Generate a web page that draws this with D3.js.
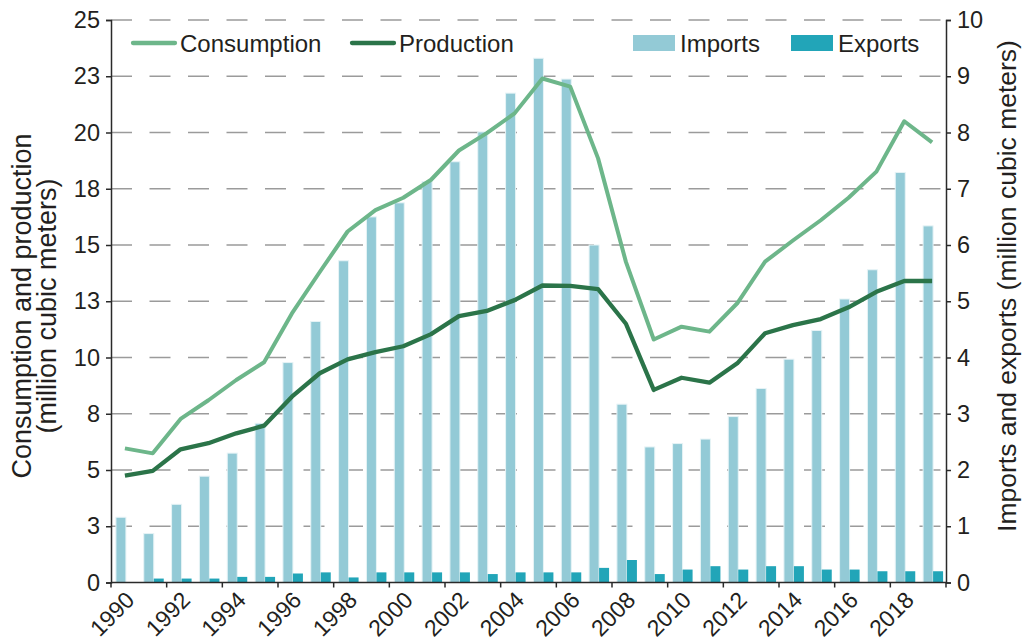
<!DOCTYPE html>
<html>
<head>
<meta charset="utf-8">
<script src="https://cdn.jsdelivr.net/npm/d3@7"></script>
<style>
  html, body { margin: 0; padding: 0; background: #fff; }
  svg { display: block; font-family: "Liberation Sans", Arial, Helvetica, sans-serif; }
</style>
</head>
<body>
<svg id="chart" width="1024" height="641"></svg>
<script>
const years = ["1990","1991","1992","1993","1994","1995","1996","1997","1998","1999",
  "2000","2001","2002","2003","2004","2005","2006","2007","2008","2009",
  "2010","2011","2012","2013","2014","2015","2016","2017","2018","2019"];
const consumption = [5.96,5.74,7.27,8.1,9.0,9.79,11.96,13.8,15.6,16.55,17.1,17.9,19.2,19.97,20.85,22.4,22.04,18.85,14.25,10.8,11.37,11.15,12.41,14.26,15.2,16.1,17.1,18.26,20.5,19.56];
const production = [4.75,4.96,5.92,6.19,6.63,6.97,8.26,9.3,9.92,10.24,10.5,11.04,11.84,12.07,12.55,13.2,13.18,13.04,11.5,8.56,9.1,8.88,9.74,11.08,11.44,11.71,12.23,12.92,13.4,13.4];
const imports = [1.16,0.87,1.39,1.89,2.30,2.83,3.91,4.64,5.72,6.5,6.75,7.13,7.48,8.01,8.70,9.32,8.95,6.0,3.17,2.41,2.47,2.55,2.95,3.45,3.97,4.48,5.04,5.56,7.29,6.34];
const exports_ = [0,0.07,0.07,0.07,0.1,0.1,0.16,0.18,0.09,0.18,0.18,0.18,0.18,0.15,0.18,0.18,0.18,0.26,0.4,0.15,0.23,0.29,0.23,0.29,0.29,0.23,0.23,0.2,0.2,0.2];
const leftTickValues = [0,2.5,5,7.5,10,12.5,15,17.5,20,22.5,25];
const leftTickLabels = ["0","3","5","8","10","13","15","18","20","23","25"];
const rightTickValues = [0,1,2,3,4,5,6,7,8,9,10];
const xLabelYears = ["1990","1992","1994","1996","1998","2000","2002","2004","2006","2008","2010","2012","2014","2016","2018"];
const leftTitle = ["Consumption and production", "(million cubic meters)"];
const rightTitle = "Imports and exports (million cubic meters)";
const legendItems = [
  {name: "Consumption", type: "line", color: "#6db68a"},
  {name: "Production", type: "line", color: "#2b7449"},
  {name: "Imports", type: "bar", color: "#93cad6"},
  {name: "Exports", type: "bar", color: "#22a5b8"}
];

const colors = {cons: "#6db68a", prod: "#2b7449", imp: "#93cad6", exp: "#22a5b8", axis: "#2a2a2a", grid: "#9b9b9b", text: "#231f20"};
const L = 111, R = 946, T = 20, B = 582.5;

const svg = d3.select("#chart");
const x = d3.scaleBand().domain(years).range([L, R]).paddingInner(0).paddingOuter(0);
const sub = d3.scaleBand().domain(["imp","exp"]).range([-9, 11]);
const yL = d3.scaleLinear().domain([0, 25]).range([B, T]);
const yR = d3.scaleLinear().domain([0, 10]).range([B, T]);
const cx = d => x(d) + x.bandwidth() / 2;

// gridlines
svg.append("g").selectAll("line").data(leftTickValues.filter(v => v > 0)).join("line")
  .attr("x1", L).attr("x2", R)
  .attr("y1", d => yL(d)).attr("y2", d => yL(d))
  .attr("stroke", colors.grid).attr("stroke-width", 1.5)
  .attr("stroke-dasharray", "21,17.5");

// bars
const bars = svg.append("g");
bars.selectAll("rect.imp").data(years).join("rect").attr("class","imp")
  .attr("x", (d) => cx(d) + sub("imp"))
  .attr("width", sub.bandwidth())
  .attr("y", (d,i) => yR(imports[i]))
  .attr("height", (d,i) => B - yR(imports[i]))
  .attr("fill", colors.imp).attr("stroke", "#e6f3f6").attr("stroke-width", 1);
bars.selectAll("rect.exp").data(years).join("rect").attr("class","exp")
  .attr("x", (d) => cx(d) + sub("exp"))
  .attr("width", sub.bandwidth())
  .attr("y", (d,i) => yR(exports_[i]))
  .attr("height", (d,i) => B - yR(exports_[i]))
  .attr("fill", colors.exp);

// lines
const line = d3.line().x((d,i) => cx(years[i])).y(d => yL(d));
svg.append("path").datum(consumption).attr("d", line)
  .attr("fill","none").attr("stroke", colors.cons).attr("stroke-width", 4).attr("stroke-linejoin","round");
svg.append("path").datum(production).attr("d", line)
  .attr("fill","none").attr("stroke", colors.prod).attr("stroke-width", 4.3).attr("stroke-linejoin","round");

// axes
const axL = d3.axisLeft(yL).tickValues(leftTickValues).tickFormat((d,i) => leftTickLabels[i]).tickSizeOuter(0).tickSize(5).tickPadding(6);
const axR = d3.axisRight(yR).tickValues(rightTickValues).tickFormat(d3.format("d")).tickSizeOuter(0).tickSize(5).tickPadding(6);
const gL = svg.append("g").attr("transform", `translate(${L},0)`).call(axL);
const gR = svg.append("g").attr("transform", `translate(${R},0)`).call(axR);
[gL, gR].forEach(g => {
  g.select(".domain").attr("stroke", colors.axis).attr("stroke-width", 1.5);
  g.selectAll(".tick line").attr("stroke", colors.axis).attr("stroke-width", 1.5);
  g.selectAll(".tick text").attr("fill", colors.text).attr("font-size", 23.5).attr("font-family", "Liberation Sans, Arial, sans-serif");
});

// x axis
const gX = svg.append("g");
gX.append("line").attr("x1", L).attr("x2", R).attr("y1", B).attr("y2", B)
  .attr("stroke", colors.axis).attr("stroke-width", 1.5);
gX.selectAll("line.tk").data(xLabelYears).join("line").attr("class","tk")
  .attr("x1", d => x(d)).attr("x2", d => x(d)).attr("y1", B).attr("y2", B + 5)
  .attr("stroke", colors.axis).attr("stroke-width", 1.5);
gX.append("line").attr("x1", R).attr("x2", R).attr("y1", B).attr("y2", B + 5)
  .attr("stroke", colors.axis).attr("stroke-width", 1.5);
gX.selectAll("text").data(xLabelYears).join("text")
  .attr("transform", d => `translate(${cx(d) + 11},${B + 19}) rotate(-45)`)
  .attr("text-anchor", "end")
  .attr("font-size", 23).attr("fill", colors.text)
  .text(d => d);

// axis titles
const lt = svg.append("text").attr("transform", `translate(0,306) rotate(-90)`)
  .attr("text-anchor","middle").attr("font-size", 27).attr("fill", colors.text);
lt.append("tspan").attr("x", 0).attr("y", 31).text(leftTitle[0]);
lt.append("tspan").attr("x", 0).attr("y", 56).text(leftTitle[1]);
svg.append("text").attr("transform", `translate(1016,286) rotate(-90)`)
  .attr("text-anchor","middle").attr("font-size", 26.5).attr("fill", colors.text)
  .text(rightTitle);

// legend
const legendX = [133, 352, 633, 791];
const lg = svg.append("g");
legendItems.forEach((it, i) => {
  const g = lg.append("g").attr("transform", `translate(${legendX[i]},0)`);
  if (it.type === "line") {
    g.append("line").attr("x1", 0).attr("x2", 42).attr("y1", 43).attr("y2", 43)
      .attr("stroke", it.color).attr("stroke-width", 4.3).attr("stroke-linecap","round");
  } else {
    g.append("rect").attr("x", 0).attr("y", 35).attr("width", 42).attr("height", 16).attr("fill", it.color);
  }
  g.append("text").attr("x", 47).attr("y", 51.5).attr("font-size", 24).attr("fill", colors.text).text(it.name);
});
</script>
</body>
</html>
